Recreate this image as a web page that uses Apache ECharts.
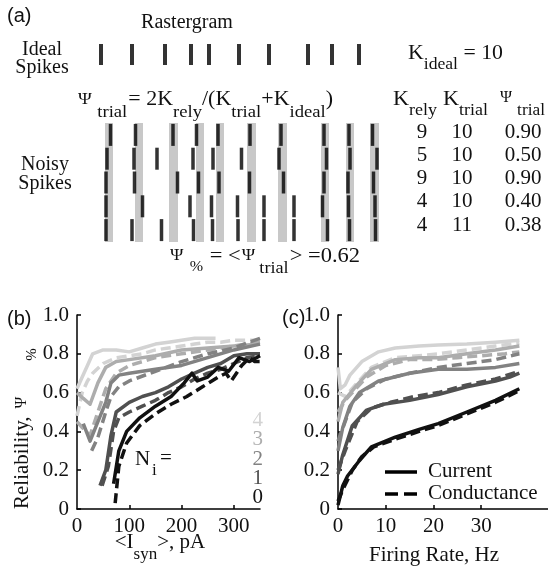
<!DOCTYPE html>
<html><head><meta charset="utf-8">
<script src="https://cdn.jsdelivr.net/npm/echarts@6/dist/echarts.min.js"></script>
<style>html,body{margin:0;padding:0;background:#fff}#c{width:548px;height:571px}</style>
</head><body><div id="c"></div><script>
// ---------- DATA ----------
const idealSpikes = [101,132,165,191,209,239,269,308,332,359];
const bandStart = [105,135,169,196,216,247,278,321,346,370];
const bandEnd   = [113,143,178,204,224,256,287,329,354,379];
const trial1 = [110.5,135.5,173,196.5,218,250,281,324,349,372.5];
const trial2 = [107,134,157,193,213,241.5,279,326.5,350,377];
const trial3 = [106,134.5,177.5,198.5,219,249.5,283.5,324,348,373.5];
const trial4 = [106,142.5,190,211.5,237.5,264,294,322.5,348.5,375];
const trial5 = [106,132,161.5,193.5,212.5,238,264,294,327.5,349.5,375.5];
const kRely = [9,5,9,4,4];
const kTrial = [10,10,10,10,11];
const psiTrial = ['0.90','0.50','0.90','0.40','0.38'];
const kIdealText = '10';
const psiPctText = '0.62';
const niLabels = ['0','1','2','3','4'];

// panel (b): reliability vs <I_syn> (pA)
const b0Current = [[70,0.13],[80,0.3],[95,0.4],[120,0.47],[150,0.53],[180,0.58],[205,0.65],[220,0.7],[230,0.66],[250,0.68],[270,0.73],[290,0.71],[310,0.78],[330,0.76],[350,0.79]];
const b0Cond    = [[73,0.03],[80,0.22],[95,0.34],[120,0.43],[150,0.49],[180,0.54],[210,0.58],[240,0.63],[270,0.68],[285,0.7],[295,0.66],[315,0.74],[330,0.78],[340,0.76],[350,0.76]];
const b1Current = [[44,0.12],[55,0.2],[65,0.38],[75,0.5],[100,0.55],[125,0.58],[150,0.6],[175,0.63],[200,0.67],[225,0.7],[250,0.73],[275,0.75],[300,0.79],[325,0.8],[350,0.8]];
const b1Cond    = [[48,0.12],[60,0.22],[70,0.4],[80,0.47],[100,0.5],[125,0.53],[150,0.56],[175,0.6],[200,0.63],[225,0.67],[250,0.7],[275,0.72],[300,0.75],[325,0.78],[350,0.79]];
const b2Current = [[12,0.44],[25,0.35],[40,0.45],[55,0.55],[65,0.65],[80,0.69],[100,0.7],[150,0.72],[200,0.74],[250,0.78],[300,0.82],[350,0.85]];
const b2Cond    = [[28,0.3],[40,0.37],[55,0.5],[65,0.58],[80,0.63],[100,0.66],[150,0.71],[200,0.76],[250,0.8],[300,0.83],[350,0.88]];
const b3Current = [[0,0.6],[12,0.57],[25,0.54],[40,0.65],[55,0.73],[75,0.76],[100,0.77],[150,0.79],[200,0.82],[250,0.83],[300,0.84],[350,0.85]];
const b3Cond    = [[0,0.45],[10,0.42],[25,0.38],[40,0.5],[55,0.62],[75,0.7],[100,0.74],[150,0.78],[200,0.8],[250,0.82],[300,0.84],[350,0.86]];
const b4Current = [[0,0.62],[10,0.68],[20,0.74],[30,0.8],[50,0.82],[75,0.82],[100,0.81],[125,0.83],[150,0.85],[175,0.86],[200,0.87],[225,0.88],[250,0.88],[265,0.88]];
const b4Cond    = [[0,0.48],[10,0.6],[20,0.66],[30,0.7],[50,0.75],[75,0.78],[100,0.79],[125,0.8],[150,0.82],[175,0.83],[200,0.84],[225,0.85],[250,0.86],[275,0.86],[300,0.87],[325,0.87],[350,0.87]];

// panel (c): reliability vs firing rate (Hz)
const c0Current = [[0,0.02],[1,0.12],[2,0.17],[4.5,0.25],[7,0.32],[12,0.37],[17,0.41],[21,0.44],[27,0.5],[33,0.56],[38,0.62]];
const c0Cond    = [[0,0.04],[1,0.1],[3,0.2],[5,0.27],[7.5,0.32],[12,0.36],[17,0.4],[21,0.43],[27,0.49],[33,0.55],[38,0.61]];
const c1Current = [[0,0.18],[1,0.28],[3,0.43],[6,0.51],[9.5,0.54],[15,0.56],[21,0.59],[27,0.63],[33,0.66],[36,0.68],[38,0.7]];
const c1Cond    = [[0,0.2],[1.5,0.3],[4,0.45],[7,0.52],[11,0.55],[16,0.58],[21,0.6],[27,0.64],[33,0.67],[38,0.71]];
const c2Current = [[0,0.3],[1,0.42],[2.5,0.53],[4.5,0.6],[8.5,0.66],[15,0.7],[21,0.72],[27,0.72],[33,0.73],[38,0.75]];
const c2Cond    = [[0,0.35],[1.5,0.45],[3,0.55],[6,0.62],[10,0.67],[15,0.7],[21,0.73],[27,0.75],[33,0.77],[38,0.8]];
const c3Current = [[0,0.45],[1,0.55],[2,0.58],[4,0.64],[7,0.72],[12,0.77],[17,0.78],[21,0.78],[27,0.8],[33,0.82],[38,0.84]];
const c3Cond    = [[0,0.5],[1.5,0.56],[3,0.6],[6,0.68],[10,0.74],[15,0.77],[20,0.77],[25,0.78],[30,0.79],[35,0.8],[38,0.81]];
const c4Current = [[0,0.73],[0.5,0.62],[1.5,0.64],[2.5,0.69],[5,0.76],[8.5,0.81],[12,0.83],[17,0.84],[21,0.845],[27,0.85],[33,0.86],[38,0.87]];
const c4Cond    = [[0,0.6],[1.5,0.58],[4,0.65],[7,0.73],[12,0.78],[17,0.79],[21,0.8],[27,0.82],[33,0.84],[38,0.855]];

const bTicks = [0,100,200,300];
const cTicks = [0,10,20,30];

// ---------- STYLE / LAYOUT ----------
const grays = ['#111111','#505050','#828282','#adadad','#d3d3d3'];
const SERIF = '"Liberation Serif"';
const SANS = '"Liberation Sans"';
const mctx = document.createElement('canvas').getContext('2d');
function tw(t, s, fam){ mctx.font = s + 'px ' + (fam || SERIF); return mctx.measureText(t).width; }
function txt(x, y, t, s, opt) {
  opt = opt || {};
  const al = opt.align || 'left';
  return {type:'text', x:x, y:y, silent:true, style:{text:t, font: s + 'px ' + (opt.fam || SERIF), fill: opt.fill || '#111',
    align: al, verticalAlign:'middle', textAlign: al, textVerticalAlign:'middle'}};
}
// sequential layout: [text, size, dy, gapBefore]; opt.target stretches to a width
function eq(x, y, segs, opt) {
  opt = opt || {};
  let cx = 0; const ch = [];
  segs.forEach(function(sg){
    const t = sg[0], s = sg[1], dy = sg[2] || 0, gap = sg[3] || 0;
    cx += gap; ch.push(txt(cx, dy, t, s, opt)); cx += tw(t, s, opt.fam);
  });
  if (opt.center) ch.forEach(function(c){ c.x -= cx/2; });
  const g = {type:'group', x:x, y:y, rotation: opt.rotation || 0, children: ch};
  if (opt.target) { g.scaleX = opt.target / cx; }
  return g;
}

const graphics = [];
graphics.push(txt(7, 16, '(a)', 20, {fam: SANS}));
graphics.push(txt(187, 23, 'Rastergram', 20, {align:'center'}));
graphics.push(txt(42, 50, 'Ideal', 20, {align:'center'}));
graphics.push(txt(42, 68, 'Spikes', 20, {align:'center'}));
graphics.push(eq(408, 53, [['K',21,0],['ideal',17,12],[' = ' + kIdealText,21,0]], {target:95}));
graphics.push(eq(78, 100, [['Ψ',17,0],['trial',17,13,5],['= 2K',20,0,1],['rely',17,13],['/(K',20,0],['trial',17,13],['+K',20,0],['ideal',17,13],[')',20,0]], {target:255}));
graphics.push(eq(393, 99, [['K',21,0],['rely',17,12]], {target:44}));
graphics.push(eq(443, 99, [['K',21,0],['trial',17,12]], {target:45}));
graphics.push(eq(500, 98, [['Ψ',16,0],['trial',17,13,5]], {target:45}));
const rowY = [132,155,178,201,225];
rowY.forEach(function(y, i){
  graphics.push(txt(422, y, String(kRely[i]), 21, {align:'center'}));
  graphics.push(txt(462, y, String(kTrial[i]), 21, {align:'center'}));
  graphics.push(txt(523, y, psiTrial[i], 21, {align:'center'}));
});
graphics.push(txt(45, 165, 'Noisy', 20, {align:'center'}));
graphics.push(txt(45, 184, 'Spikes', 20, {align:'center'}));
graphics.push(eq(170, 256, [['Ψ',17,0],['%',15,11,6],['= <',21,0,6],['Ψ',17,0,1],['trial',17,13,4],['> =' + psiPctText,21,0,1]], {target:190}));
graphics.push(txt(7, 319, '(b)', 20, {fam: SANS}));
graphics.push(txt(282, 318, '(c)', 20, {fam: SANS}));
graphics.push(eq(22, 509, [['Reliability,',21,0],['Ψ',16,0,8],['%',15,10,36]], {rotation: Math.PI/2}));
graphics.push(eq(160, 542, [['<I',21,0],['syn',17,13],['>, pA',21,0]], {center:true}));
graphics.push(txt(434, 555, 'Firing Rate, Hz', 21, {align:'center'}));
graphics.push({type:'line', silent:true, shape:{x1:385,y1:472,x2:417,y2:472}, style:{stroke:'#000', lineWidth:3.5}});
graphics.push({type:'line', silent:true, shape:{x1:385,y1:494,x2:419,y2:494}, style:{stroke:'#000', lineWidth:3.5, lineDash:[13,6]}});
graphics.push(txt(428, 471, 'Current', 21));
graphics.push(txt(428, 493, 'Conductance', 21));
graphics.push(txt(135, 459, 'N', 21));
graphics.push(txt(152, 471, 'i', 17));
graphics.push(txt(160, 458, '=', 21));
const niY = [497,478,459,439,420];
niLabels.forEach(function(l, n){ graphics.push(txt(263, niY[n], l, 21, {align:'right', fill: grays[n]})); });

// ---------- CHART ----------
const axisBase = {
  axisLine:{onZero:false, lineStyle:{color:'#000', width:1.5}},
  axisTick:{inside:true, length:4, lineStyle:{color:'#000', width:1.5}},
  splitLine:{show:false}
};
function valAxis(extra){ return Object.assign({type:'value'}, JSON.parse(JSON.stringify(axisBase)), extra); }
const lbl = {color:'#111', fontSize:21, fontFamily:'Liberation Serif'};

const series = [];
series.push({type:'scatter', xAxisIndex:0, yAxisIndex:0, symbol:'rect', symbolSize:[4,21], silent:true,
  itemStyle:{color:'#000'}, data: idealSpikes.map(function(t){ return [t, 0]; })});
series.push({type:'custom', xAxisIndex:1, yAxisIndex:1, silent:true, z:1,
  data: bandStart.map(function(s,i){ return [s, bandEnd[i]]; }),
  renderItem: function(p, api){
    const a = api.coord([api.value(0), 0.5]); const b = api.coord([api.value(1), 5.5]);
    return {type:'rect', shape:{x:Math.min(a[0],b[0]), y:Math.min(a[1],b[1]), width:Math.abs(b[0]-a[0]), height:Math.abs(b[1]-a[1])}, style:{fill:'#c8c8c8'}};
  }});
const trials = [trial1, trial2, trial3, trial4, trial5];
const noisy = [];
trials.forEach(function(arr, r){ arr.forEach(function(t){ noisy.push([t, r+1]); }); });
series.push({type:'scatter', xAxisIndex:1, yAxisIndex:1, symbol:'rect', symbolSize:[3.5,22], silent:true, z:3,
  itemStyle:{color:'#000'}, data: noisy});

const bCur = [b0Current,b1Current,b2Current,b3Current,b4Current];
const bCon = [b0Cond,b1Cond,b2Cond,b3Cond,b4Cond];
const cCur = [c0Current,c1Current,c2Current,c3Current,c4Current];
const cCon = [c0Cond,c1Cond,c2Cond,c3Cond,c4Cond];
function lineS(data, xi, n, dashed){
  return {type:'line', xAxisIndex:xi, yAxisIndex:xi, data:data, symbol:'none', silent:true, z: 5 - n,
    lineStyle:{color:grays[n], width:3.5, type: dashed ? [10,5] : 'solid', cap:'butt', join:'round'}};
}
for (let n = 4; n >= 0; n--) {
  series.push(lineS(bCur[n], 2, n, false));
  series.push(lineS(bCon[n], 2, n, true));
  series.push(lineS(cCur[n], 3, n, false));
  series.push(lineS(cCon[n], 3, n, true));
}

const yFmt = function(v){ return v === 0 ? '0' : v.toFixed(1); };
const option = {
  animation:false,
  backgroundColor:'#fff',
  grid:[
    {left:90, top:44, width:290, height:21},
    {left:90, top:123, width:290, height:119},
    {left:77, top:315, width:183, height:194},
    {left:338, top:315, width:211, height:194}
  ],
  xAxis:[
    {type:'value', gridIndex:0, min:90, max:380, show:false},
    {type:'value', gridIndex:1, min:90, max:380, show:false},
    valAxis({gridIndex:2, min:0, max:350,
      axisLabel:Object.assign({customValues:bTicks, margin:7}, lbl),
      axisTick:{inside:true, length:4, lineStyle:{color:'#000', width:1.5}, customValues:bTicks.slice(1)}}),
    valAxis({gridIndex:3, min:0, max:44,
      axisLabel:Object.assign({customValues:cTicks, margin:7}, lbl),
      axisTick:{inside:true, length:4, lineStyle:{color:'#000', width:1.5}, customValues:cTicks.slice(1)}})
  ],
  yAxis:[
    {type:'value', gridIndex:0, min:-0.5, max:0.5, show:false},
    {type:'value', gridIndex:1, min:0.5, max:5.5, inverse:true, show:false},
    valAxis({gridIndex:2, min:0, max:1, interval:0.2, axisLabel:Object.assign({formatter:yFmt, margin:8}, lbl)}),
    valAxis({gridIndex:3, min:0, max:1, interval:0.2, axisLabel:Object.assign({formatter:yFmt, margin:8}, lbl)})
  ],
  series:series,
  graphic:{elements:graphics}
};
const chart = echarts.init(document.getElementById('c'), null, {renderer:'canvas'});
chart.setOption(option);
</script></body></html>
